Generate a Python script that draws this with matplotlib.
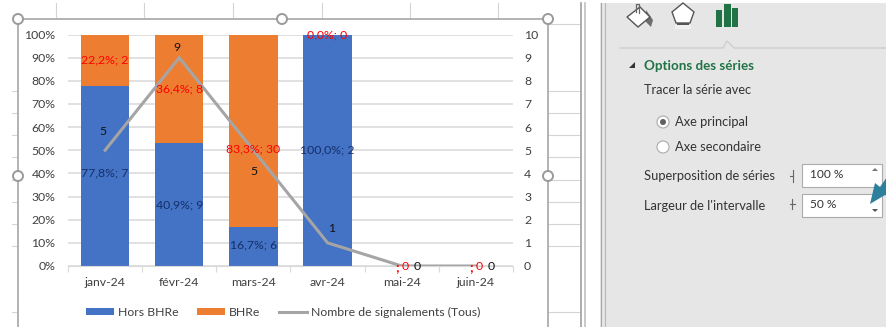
import matplotlib
matplotlib.use("Agg")
import matplotlib.pyplot as plt
from matplotlib.patches import Rectangle, Circle, Polygon

W, H = 887, 327

months = ["janv-24", "févr-24", "mars-24", "avr-24", "mai-24", "juin-24"]
hors_bhre = [77.8, 53, 16.7, 100, 0, 0]
bhre = [22.2, 47, 83.3, 0, 0, 0]
signalements = [5, 9, 5, 1, 0, 0]
hors_labels = ["77,8%; 7", "40,9%; 9", "16,7%; 6", "100,0%; 2"]
bhre_labels = ["22,2%; 2", "36,4%; 8", "83,3%; 30", "0,0%; 0"]
pct_ticks = ["0%", "10%", "20%", "30%", "40%", "50%", "60%", "70%", "80%", "90%", "100%"]

plt.rcParams["font.family"] = ["Lato", "DejaVu Sans"]
fs = 8.8
fig = plt.figure(figsize=(W / 100, H / 100), dpi=100, facecolor="white")

# layer in pixel coords for the sheet + side panel
bg = fig.add_axes([0, 0, 1, 1], zorder=0)
bg.set_xlim(0, W)
bg.set_ylim(H, 0)
bg.axis("off")

sheet_line = "#D4D4D4"
for y in [91, 113, 135, 157, 180, 202, 224, 246, 312]:
    bg.plot([12, 580], [y, y], color=sheet_line, lw=0.8)
bg.plot([548, 580], [24, 24], color=sheet_line, lw=0.8)
for x in [56, 144, 233, 322, 410, 498]:
    bg.plot([x, x], [3, 19], color=sheet_line, lw=0.8)

# chart area
bg.add_patch(Rectangle((18, 19), 530, 320, fc="white", ec="#A6A6A6", lw=1.2, zorder=3))

# scrollbar strip and panel
bg.plot([581, 581], [3, H], color="#A0A0A0", lw=1.2, zorder=4)
bg.plot([585, 585], [3, H], color="#C0C0C0", lw=1.2, zorder=4)
bg.add_patch(Rectangle((600, 3), 287, H, fc="#E6E6E6", ec="none", zorder=3))
bg.plot([601, 601], [3, H], color="#A8A8A8", lw=0.8, zorder=4)
bg.plot([605, 605], [3, H], color="#B8B8B8", lw=0.8, zorder=4)

# panel icons
bg.add_patch(Polygon([(646, 10), (653, 20), (651, 27), (646, 22)], fc="#6E6E6E", ec="none", zorder=5))
bg.add_patch(Polygon([(627, 17), (640, 7), (650, 17), (638, 27)], fc="white", ec="#555555", lw=1, zorder=5))
bg.plot([636, 636, 639, 639], [12, 4, 4, 13], color="#666666", lw=0.9, zorder=6)
bg.add_patch(Polygon([(672, 12), (683, 3), (694, 12), (690, 23), (676, 23)], fc="white", ec="#555555", lw=1, zorder=5))
bg.add_patch(Rectangle((677, 23), 12, 2, fc="#555555", ec="none", zorder=5))
bg.add_patch(Rectangle((675, 25), 16, 4, fc="#F0F0F0", ec="none", zorder=5))
for x, bar_w, bar_top in [(716, 6, 10), (724, 7, 4), (732, 6, 8)]:
    bg.add_patch(Rectangle((x, bar_top), bar_w, 27 - bar_top, fc="#217346", ec="none", zorder=5))
bg.plot([620, 723, 727, 734, 887], [48, 48, 41, 48, 48], color="#CFCFCF", lw=1, zorder=5)
bg.add_patch(Polygon([(629, 68), (635, 68), (635, 62)], fc="#333333", ec="none", zorder=5))

panel_text = "#333333"
bg.text(644, 66, "Options des séries", color="#217346", fontsize=9.6, fontweight="bold", va="center", zorder=6)
bg.text(644, 90, "Tracer la série avec", color=panel_text, fontsize=9.2, va="center", zorder=6)
bg.text(675, 122, "Axe principal", color=panel_text, fontsize=9.3, va="center", zorder=6)
bg.text(675, 147, "Axe secondaire", color=panel_text, fontsize=9.3, va="center", zorder=6)
bg.text(644, 176, "Superposition de séries", color=panel_text, fontsize=9.3, va="center", zorder=6)
bg.text(644, 206, "Largeur de l'intervalle", color=panel_text, fontsize=9.3, va="center", zorder=6)
for y, txt in [(164, "100 %"), (194, "50 %")]:
    bg.add_patch(Rectangle((802, y), 80, 23, fc="white", ec="#ABABAB", lw=0.8, zorder=5))
    bg.text(810, y + 11, txt, color=panel_text, fontsize=8.6, va="center", zorder=6)
for y in [122, 147]:
    bg.add_patch(Circle((663, y), 6, fc="white", ec="#ABABAB", lw=0.8, zorder=5))
bg.add_patch(Circle((663, 122), 3, fc="#606060", ec="none", zorder=6))
bg.plot([793, 793], [170, 182], color="#666666", lw=0.8, zorder=5)
bg.plot([790, 793], [176, 176], color="#666666", lw=0.8, zorder=5)
bg.plot([792, 792], [199, 209], color="#666666", lw=0.8, zorder=5)
bg.plot([790, 795], [204, 204], color="#666666", lw=0.8, zorder=5)
bg.add_patch(Polygon([(872, 171), (878, 171), (875, 168)], fc="#777777", ec="none", zorder=6))
bg.add_patch(Polygon([(872, 209), (878, 209), (875, 212)], fc="#555555", ec="none", zorder=6))

# arrow
bg.add_patch(Polygon([(870, 204), (875, 183), (880, 187), (887, 177), (887, 196), (885, 195)],
                     fc="#2E7F9C", ec="none", zorder=7))

# chart plot area
left, right, top, bottom = 68, 513, 34.5, 266
ax = fig.add_axes([left / W, 1 - bottom / H, (right - left) / W, (bottom - top) / H], zorder=2)
ax.patch.set_alpha(0)
x = list(range(len(months)))
bars1 = ax.bar(x, hors_bhre, width=0.65, color="#4472C4", label="Hors BHRe", zorder=2)
bars2 = ax.bar(x, bhre, width=0.65, bottom=hors_bhre, color="#ED7D31", label="BHRe", zorder=2)
ax.set_xlim(-0.5, 5.5)
ax.set_ylim(0, 100)
ax.set_yticks(range(0, 101, 10))
ax.set_yticklabels(pct_ticks, fontsize=fs, color="#404040")
ax.set_xticks(x)
ax.set_xticklabels(months, fontsize=fs, color="#404040")
ax.tick_params(axis="y", length=0, pad=9)
ax.tick_params(axis="x", length=0, pad=8)
ax.set_xticks([i - 0.5 for i in range(7)], minor=True)
ax.tick_params(axis="x", which="minor", length=4, color="#D9D9D9", width=0.8)
ax.grid(axis="y", color="#D9D9D9", lw=1.1, zorder=0)
ax.set_axisbelow(True)
for s in ["top", "left", "right"]:
    ax.spines[s].set_visible(False)
ax.spines["bottom"].set_color("#D9D9D9")

ax2 = ax.twinx()
ax2.set_zorder(3)
line, = ax2.plot(x, signalements, color="#A5A5A5", lw=2.2, label="Nombre de signalements (Tous)",
                 solid_joinstyle="miter")
ax2.set_ylim(0, 10)
ax2.set_yticks(range(0, 11))
ax2.tick_params(axis="y", length=0, labelsize=fs, labelcolor="#404040", pad=8)
for s in ax2.spines.values():
    s.set_visible(False)

# data labels of the bars
for i, txt in enumerate(hors_labels):
    ypos = [40, 26.5, 9, 50][i]
    ax2.text(i, ypos / 10, txt, color="#14306B", fontsize=fs, ha="center", va="center", zorder=6)
for i, txt in enumerate(bhre_labels):
    ypos = [88.9, 76.5, 50.5, 100][i]
    ax2.text(i, ypos / 10, txt, color="#FF0000", fontsize=fs, ha="center", va="center", zorder=6)

# data labels of the line
line_offsets = [(-2, 19), (-2, 10), (1, -21), (4, 14), (15, 0), (15, 0)]
for i, val in enumerate(signalements):
    ax2.annotate(str(val), (i, val), xytext=line_offsets[i], textcoords="offset pixels",
                 color="#111111", fontsize=fs, ha="center", va="center", zorder=6)
for i in [4, 5]:
    ax2.annotate(";", (i, 0), xytext=(-5, -1), textcoords="offset pixels", color="#FF0000",
                 fontsize=fs + 1, fontweight="bold", ha="center", va="center", zorder=6)
    ax2.annotate("0", (i, 0), xytext=(3, 0), textcoords="offset pixels", color="#FF0000",
                 fontsize=fs, ha="center", va="center", zorder=6)

leg = ax.legend([bars1, bars2, line], ["Hors BHRe", "BHRe", "Nombre de signalements (Tous)"],
                ncol=3, frameon=False, fontsize=fs, labelcolor="#404040",
                loc="center left", bbox_to_anchor=((86 - left) / (right - left), (bottom - 312) / (bottom - top)),
                handlelength=2.3, handleheight=0.55, columnspacing=1.5, handletextpad=0.33,
                borderaxespad=0, borderpad=0)

# selection handles on top of everything
top_ax = fig.add_axes([0, 0, 1, 1], zorder=5)
top_ax.set_xlim(0, W)
top_ax.set_ylim(H, 0)
top_ax.axis("off")
for hx, hy in [(18, 19), (282, 19), (548, 19), (18, 176), (548, 176)]:
    top_ax.add_patch(Circle((hx, hy), 5, fc="white", ec="#9A9A9A", lw=1.4))

fig.savefig("out.png", dpi=100)
